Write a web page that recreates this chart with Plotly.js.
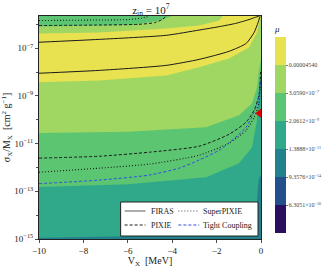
<!DOCTYPE html>
<html>
<head>
<meta charset="utf-8">
<script src="https://cdn.plot.ly/plotly-3.0.1.min.js"></script>
<style>html,body{margin:0;padding:0;background:#fff;}#chart{width:333px;height:268px;}</style>
</head>
<body>
<div id="chart"></div>
<script>
// ---- data (V_X in MeV, log10 of sigma_X/M_X in cm^2 g^-1) ----
// filled-band boundaries
var tealTopV = [-10, -6, -2, -0.6, -0.3, -0.2, -0.15, -0.1, 0];
var tealTopL = [-14.95, -14.88, -14.75, -14.6, -14.3, -13.7, -13.0, -12.5, -12.3];
var greenLowV = [-10, -6, -2.47, -0.99, -0.40, -0.18, -0.09, 0];
var greenLowL = [-12.82, -12.7, -12.41, -11.82, -11.15, -10.02, -8.64, -8.3];
var lgreenLowV = [-10, -6, -2.47, -0.99, -0.40, -0.18, -0.09, 0];
var lgreenLowL = [-10.56, -10.5, -10.31, -9.81, -9.31, -8.64, -7.93, -7.5];
var yellowLowV = [-10, -7.28, -4.27, -2.79, -1.44, -0.54, -0.18, -0.045, 0];
var yellowLowL = [-8.43, -8.35, -8.14, -7.80, -7.43, -6.97, -6.34, -5.75, -5.7];
var yellowUpV = [-10, -7.28, -4.27, -2.79, -1.89, -1.12];
var yellowUpL = [-6.38, -6.34, -6.17, -6.05, -5.84, -5.66];
var topStripV = [-10, -7.5, -5.71, -4.58, -4.04];
var topStripL = [-6.09, -6.06, -6.02, -5.84, -5.66];

// contour lines
var firasUpV = [-10, -7.28, -4.27, -2.79, -1.9, -1.14, -0.54, -0.24, -0.1];
var firasUpL = [-6.75, -6.63, -6.46, -6.24, -6.1, -5.96, -5.80, -5.70, -5.66];
var firasLoV = [-10, -7.28, -4.27, -2.79, -1.44, -0.67, -0.31, -0.13, -0.045];
var firasLoL = [-8.05, -7.93, -7.72, -7.47, -7.13, -6.80, -6.34, -5.92, -5.66];
var pixieLoV = [-10, -7.28, -5.03, -2.79, -1.44, -0.67, -0.31, -0.09, -0.02];
var pixieLoL = [-11.61, -11.53, -11.36, -11.11, -10.61, -10.10, -9.60, -8.97, -8.0];
var pixieUpV = [-10, -7.5, -5.5, -4.8, -4.45, -4.27];
var pixieUpL = [-6.05, -6.03, -6.0, -5.93, -5.8, -5.66];
var superLoV = [-10, -7.28, -5.03, -2.79, -1.44, -0.67, -0.31, -0.09, -0.02];
var superLoL = [-12.20, -12.03, -11.86, -11.49, -10.98, -10.44, -9.90, -9.31, -8.3];
var superUpV = [-10, -7.5, -6, -5.4, -5.03];
var superUpL = [-5.84, -5.82, -5.8, -5.74, -5.66];
var tightV = [-10, -7.28, -5.03, -3.69, -2.79, -1.89, -1.30, -0.67, -0.22, -0.09, -0.03];
var tightL = [-12.68, -12.53, -12.32, -12.03, -11.69, -11.28, -10.86, -10.31, -9.48, -8.97, -8.4];
var markerV = [-0.08];
var markerL = [-9.73];

// colour levels: ln(mu) boundaries and labels
var levelLn = [-40, -35, -30, -25, -20, -15, -10, -5];
var levelLabels = ['6.3051×10<sup>−16</sup>', '9.3576×10<sup>−14</sup>', '1.3888×10<sup>−11</sup>',
                   '2.0612×10<sup>−9</sup>', '3.0590×10<sup>−7</sup>', '0.00004540'];
var bandColors = ['#2a0f5e', '#23508a', '#21828d', '#30a98a', '#5cc572', '#a0d662', '#e8e251'];

var xTickVals = [-10, -8, -6, -4, -2, 0];
var xTickText = ['−10', '−8', '−6', '−4', '−2', '0'];
var yTickExp = [-15, -13, -11, -9, -7];
var yMinorExp = [-14, -12, -10, -8, -6];

// ---- build ----
var XMIN = -10, XMAX = 0, LMIN = -15, LMAX = -5.65, LTOP = -5.0, LBOT = -16;
function p(L) { return L.map(function (v) { return Math.pow(10, v); }); }
function rev(a) { return a.slice().reverse(); }

function fillPoly(xs, ls, color) {
  return {x: xs, y: p(ls), mode: 'lines', fill: 'toself', fillcolor: color,
          line: {width: 0, color: color, simplify: false}, hoverinfo: 'skip', showlegend: false, type: 'scatter'};
}
function line(xs, ls, color, dash, w) {
  return {x: xs, y: p(ls), mode: 'lines', line: {color: color, dash: dash, width: w, shape: 'spline', smoothing: 0.6},
          hoverinfo: 'skip', showlegend: false, type: 'scatter'};
}

var traces = [];
// teal band at bottom / right edge
traces.push(fillPoly([XMIN].concat(tealTopV, [XMAX + 1, XMIN]), [LBOT].concat(tealTopL, [LBOT, LBOT]), bandColors[2]));
// green: everything above greenLow
traces.push(fillPoly(greenLowV.concat([XMAX + 1, XMAX + 1, XMIN - 1, XMIN - 1]),
                     greenLowL.concat([greenLowL[greenLowL.length - 1], LTOP, LTOP, greenLowL[0]]), bandColors[4]));
// light green: everything above lgreenLow
traces.push(fillPoly(lgreenLowV.concat([XMAX + 1, XMAX + 1, XMIN - 1, XMIN - 1]),
                     lgreenLowL.concat([lgreenLowL[lgreenLowL.length - 1], LTOP, LTOP, lgreenLowL[0]]), bandColors[5]));
// yellow
traces.push(fillPoly([XMIN - 1].concat(yellowLowV, [-0.05], rev(yellowUpV), [XMIN - 1]),
                     [yellowLowL[0]].concat(yellowLowL, [LTOP], rev(yellowUpL).map(function (v, i) { return i === 0 ? LTOP : v; }), [yellowUpL[0]]), bandColors[6]));
// green strip at top
traces.push(fillPoly([XMIN - 1].concat(topStripV, [topStripV[topStripV.length - 1], XMIN - 1]),
                     [topStripL[0]].concat(topStripL, [LTOP, LTOP]), bandColors[4]));

// contour lines
traces.push(line(firasUpV, firasUpL, '#1a1a1a', 'solid', 1));
traces.push(line(firasLoV, firasLoL, '#1a1a1a', 'solid', 1));
traces.push(line(pixieLoV, pixieLoL, '#1a1a1a', '3px,2px', 1));
traces.push(line(pixieUpV, pixieUpL, '#1a1a1a', '3px,2px', 1));
traces.push(line(superLoV, superLoL, '#1a1a1a', '1px,2px', 1.1));
traces.push(line(superUpV, superUpL, '#1a1a1a', '1px,2px', 1.1));
traces.push(line(tightV, tightL, '#2f4fe0', '3px,2px', 1));

// red marker
traces.push({x: markerV, y: p(markerL), mode: 'markers', type: 'scatter', showlegend: false,
             marker: {symbol: 'triangle-left', size: 8, color: '#e00000'}, hoverinfo: 'skip', cliponaxis: true});

// colorbar carrier (point outside the x range)
var cs = [];
for (var i = 0; i < bandColors.length; i++) {
  cs.push([i / bandColors.length, bandColors[i]]);
  cs.push([(i + 1) / bandColors.length, bandColors[i]]);
}
traces.push({x: [XMIN - 5], y: [1e-10], mode: 'markers', type: 'scatter', showlegend: false, hoverinfo: 'skip',
  marker: {color: [-20], colorscale: cs, cmin: levelLn[0], cmax: levelLn[levelLn.length - 1], size: 1,
    showscale: true,
    colorbar: {x: 1.058, xanchor: 'left', xpad: 0, y: 0.5, yanchor: 'middle', len: 0.946, lenmode: 'fraction',
      ypad: 0, thickness: 11, outlinewidth: 0,
      tickvals: levelLn.slice(1, levelLn.length - 1), ticktext: levelLabels,
      ticks: 'outside', ticklen: 2, tickcolor: '#555', tickwidth: 0.8,
      tickfont: {family: 'Liberation Serif', size: 6, color: '#444'},
      title: {text: '<i>μ</i>', side: 'top', font: {family: 'Liberation Serif', size: 9, color: '#222'}}}}});

var PLOT_W = 223, PLOT_H = 223;
function px(x) { return (x - 39) / PLOT_W; }
function py(y) { return (239 - y) / PLOT_H; }

var shapes = [
  {type: 'rect', xref: 'paper', yref: 'paper', x0: px(121), x1: px(259), y0: py(236), y1: py(202),
   fillcolor: '#ffffff', line: {color: '#222', width: 1}},
  {type: 'line', xref: 'paper', yref: 'paper', x0: px(125), x1: px(146), y0: py(211), y1: py(211), line: {color: '#777', width: 1.2}},
  {type: 'line', xref: 'paper', yref: 'paper', x0: px(125), x1: px(146), y0: py(225), y1: py(225), line: {color: '#1a1a1a', width: 1, dash: '3px,2px'}},
  {type: 'line', xref: 'paper', yref: 'paper', x0: px(179), x1: px(200), y0: py(211), y1: py(211), line: {color: '#444', width: 1, dash: '1px,2px'}},
  {type: 'line', xref: 'paper', yref: 'paper', x0: px(179), x1: px(200), y0: py(225), y1: py(225), line: {color: '#2f4fe0', width: 1, dash: '3px,2px'}}
];
var lf = {family: 'Liberation Serif', size: 8, color: '#222'};
function ann(x, y, t) { return {xref: 'paper', yref: 'paper', x: px(x), y: py(y), text: t, showarrow: false, xanchor: 'left', yanchor: 'middle', font: lf}; }
var annotations = [ann(149, 211, 'FIRAS'), ann(149, 225, 'PIXIE'), ann(202, 211, 'SuperPIXIE'), ann(202, 225, 'Tight Coupling')];

var serif = 'Liberation Serif';
var layout = {
  width: 333, height: 268,
  margin: {l: 39, r: 71, t: 16, b: 29, pad: 0},
  paper_bgcolor: '#ffffff', plot_bgcolor: bandColors[3],
  showlegend: false,
  title: {text: 'z<sub>in</sub> = 10<sup>7</sup>', x: 0.453, xanchor: 'center', yref: 'container', y: 0.962, yanchor: 'middle',
          font: {family: serif, size: 11, color: '#222'}},
  xaxis: {range: [XMIN, XMAX], tickvals: xTickVals, ticktext: xTickText, ticks: 'outside', ticklen: 3, tickwidth: 0.8,
          tickcolor: '#222', showgrid: false, zeroline: false, showline: true, mirror: true, linecolor: '#222', linewidth: 1,
          tickfont: {family: serif, size: 9, color: '#222'},
          title: {text: 'V<sub>X</sub>  [MeV]', standoff: 8, font: {family: serif, size: 10, color: '#222'}}},
  yaxis: {type: 'log', range: [LMIN, LMAX], tickvals: p(yTickExp),
          ticktext: yTickExp.map(function (e) { return '10<sup>−' + (-e) + '</sup>'; }),
          ticks: 'outside', ticklen: 3, tickwidth: 0.8, tickcolor: '#222',
          minor: {tickvals: p(yMinorExp), ticks: 'outside', ticklen: 2, tickcolor: '#222', showgrid: false},
          showgrid: false, zeroline: false, showline: true, mirror: true, linecolor: '#222', linewidth: 1,
          tickfont: {family: serif, size: 9, color: '#222'},
          title: {text: 'σ<sub>X</sub>/M<sub>X</sub>  [cm<sup>2</sup> g<sup>−1</sup>]', standoff: 5, font: {family: serif, size: 10, color: '#222'}}},
  shapes: shapes, annotations: annotations
};

Plotly.newPlot('chart', traces, layout, {staticPlot: true, displayModeBar: false});
</script>
</body>
</html>
